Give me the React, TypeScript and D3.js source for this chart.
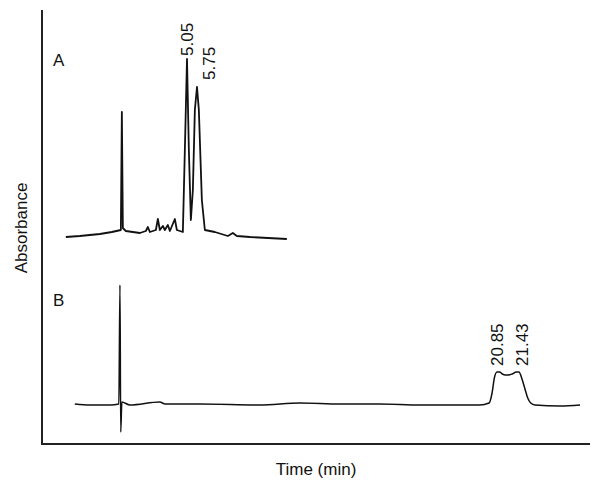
import React, { useRef, useEffect } from 'react';
import * as d3 from 'd3';

// Trace A: [time (min), absorbance]
const traceA: [number, number][] = [
  [-3.43, 1.5], [-2.45, 2], [-1.05, 3], [-0.21, 4], [0.42, 5], [0.49, 64], [0.56, 6], [0.77, 4.5],
  [1.75, 3.5], [2.17, 4.5], [2.31, 6.5], [2.45, 4], [2.87, 5], [3.01, 10.5], [3.15, 5], [3.36, 7],
  [3.5, 5], [3.71, 7.5], [3.85, 4.5], [4.2, 10.5], [4.34, 5], [4.76, 4], [4.9, 45], [5.05, 90.5],
  [5.18, 45], [5.32, 10], [5.46, 25], [5.6, 65], [5.75, 76.5], [5.88, 65], [6.09, 20], [6.3, 5],
  [7.0, 4], [7.91, 2], [8.26, 3.5], [8.54, 2], [9.45, 1.5], [12.04, 0.5],
];
const peaksA = [5.05, 5.75];

// Trace B
const traceB: [number, number][] = [
  [9.72, 1], [10.12, 0], [10.65, 0], [10.88, 1], [10.91, 120], [10.93, -27], [10.96, 3], [11.17, 0],
  [11.96, 3], [12.1, 1], [13.02, 1], [14.6, 0], [15.66, 2], [16.71, 1], [17.76, 1], [18.82, 0],
  [20.4, 0], [20.64, 2], [20.72, 12], [20.78, 27], [20.85, 33], [20.92, 33], [20.99, 31], [21.07, 30],
  [21.15, 30], [21.25, 31], [21.36, 33], [21.43, 33], [21.5, 27], [21.58, 17], [21.66, 7], [21.74, 2],
  [21.85, 0], [22.51, -1], [23.04, 0],
];
const peaksB = [20.85, 21.43];

export default function App() {
  const svgRef = useRef<SVGSVGElement>(null);

  useEffect(() => {
    const svg = d3.select(svgRef.current);
    svg.selectAll('*').remove();
    const font = 'Arial, "Liberation Sans", sans-serif';
    const fs = 17;

    // axes frame
    svg.append('path').attr('d', 'M42,10V444H590').attr('fill', 'none').attr('stroke', '#222').attr('stroke-width', 2);

    const xA = d3.scaleLinear().domain([5.05, 5.75]).range([187, 197]);
    const yA = d3.scaleLinear().domain([0, 90]).range([240, 60]);
    const xB = d3.scaleLinear().domain([20.85, 21.43]).range([497, 519]);
    const yB = d3.scaleLinear().domain([0, 120]).range([405, 285]);

    const draw = (data: [number, number][], x: d3.ScaleLinear<number, number>, y: d3.ScaleLinear<number, number>, w: number, curve: d3.CurveFactory) => {
      const line = d3.line<[number, number]>().x(d => x(d[0])).y(d => y(d[1])).curve(curve);
      svg.append('path').attr('d', line(data)!).attr('fill', 'none').attr('stroke', '#111').attr('stroke-width', w).attr('stroke-linejoin', 'round');
    };
    draw(traceA, xA, yA, 1.8, d3.curveLinear);
    draw(traceB, xB, yB, 1.5, d3.curveMonotoneX);

    const label = (t: number, x: number, yBottom: number) => {
      svg.append('text').attr('transform', `translate(${x + 6},${yBottom}) rotate(-90)`)
        .attr('font-family', font).attr('font-size', fs).attr('fill', '#111').text(t.toFixed(2));
    };
    label(peaksA[0], xA(peaksA[0]), 56);
    label(peaksA[1], xA(peaksA[1]) + 12, 80);
    label(peaksB[0], xB(peaksB[0]), 366);
    label(peaksB[1], xB(peaksB[1]) + 3, 366);

    const txt = (s: string, x: number, y: number) =>
      svg.append('text').attr('x', x).attr('y', y).attr('font-family', font).attr('font-size', fs).attr('fill', '#111').text(s);
    txt('A', 53, 66);
    txt('B', 53, 306);
    txt('Time (min)', 316, 475).attr('text-anchor', 'middle');
    svg.append('text').attr('transform', 'translate(27,228) rotate(-90)').attr('text-anchor', 'middle')
      .attr('font-family', font).attr('font-size', fs).attr('fill', '#111').text('Absorbance');
  }, []);

  return <svg ref={svgRef} width={595} height={480} style={{ position: 'absolute', left: 0, top: 0, background: '#fff' }} />;
}
